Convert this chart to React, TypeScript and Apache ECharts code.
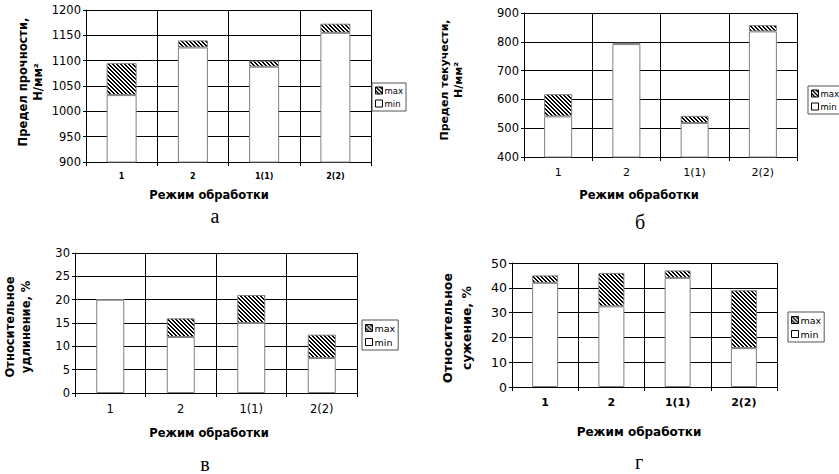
import React, { useEffect, useRef } from "react";
import * as echarts from "echarts";

const categories = ["1", "2", "1(1)", "2(2)"];

// a — Предел прочности
const strengthMin = [1032, 1126, 1088, 1155];
const strengthMax = [1095, 1140, 1100, 1173];
// б — Предел текучести
const yieldMin = [541, 792, 518, 836];
const yieldMax = [618, 797, 543, 858];
// в — Относительное удлинение
const elongMin = [20, 12, 15, 7.5];
const elongMax = [20, 16, 21, 12.5];
// г — Относительное сужение
const narrowMin = [42, 32.5, 44, 15.7];
const narrowMax = [45, 46, 47, 39];

const FONT = "DejaVu Sans";

type Panel = {
  grid: { left: number; top: number; width: number; height: number };
  min: number;
  max: number;
  interval: number;
  mins: number[];
  maxs: number[];
  barWidth: number;
  xBold: boolean;
  xSize: number;
  ySize: number;
  legend: { left: number; top: number };
  legendSize: number;
};

const panels: Panel[] = [
  {
    grid: { left: 86, top: 10, width: 285, height: 152 },
    min: 900, max: 1200, interval: 50,
    mins: strengthMin, maxs: strengthMax, barWidth: 30,
    xBold: true, xSize: 8, ySize: 11.5,
    legend: { left: 372, top: 83 }, legendSize: 8.5,
  },
  {
    grid: { left: 524, top: 13, width: 273, height: 144 },
    min: 400, max: 900, interval: 100,
    mins: yieldMin, maxs: yieldMax, barWidth: 28,
    xBold: false, xSize: 11, ySize: 11.5,
    legend: { left: 808, top: 86 }, legendSize: 8.5,
  },
  {
    grid: { left: 75, top: 253, width: 282, height: 140 },
    min: 0, max: 30, interval: 5,
    mins: elongMin, maxs: elongMax, barWidth: 28,
    xBold: false, xSize: 11.5, ySize: 11.5,
    legend: { left: 362, top: 320 }, legendSize: 9.5,
  },
  {
    grid: { left: 512, top: 263, width: 265, height: 124 },
    min: 0, max: 50, interval: 10,
    mins: narrowMin, maxs: narrowMax, barWidth: 26,
    xBold: true, xSize: 11, ySize: 12.5,
    legend: { left: 788, top: 312 }, legendSize: 9.5,
  },
];

function makeHatch(): HTMLCanvasElement {
  const size = 4;
  const c = document.createElement("canvas");
  c.width = size;
  c.height = size;
  const ctx = c.getContext("2d")!;
  ctx.fillStyle = "#fff";
  ctx.fillRect(0, 0, size, size);
  ctx.fillStyle = "#000";
  // "\" diagonal stripes, 2px thick, period 4px
  for (let y = 0; y < size; y++) {
    for (let x = 0; x < size; x++) {
      const d = (x - y + size * 4) % size;
      if (d === 0 || d === 1) ctx.fillRect(x, y, 1, 1);
    }
  }
  return c;
}

export default function App() {
  const ref = useRef<HTMLDivElement>(null);
  useEffect(() => {
    if (!ref.current) return;
    const chart = echarts.init(ref.current, undefined, { renderer: "svg" });
    const hatchCanvas = makeHatch();
    const hatchFill: any = {
      image: hatchCanvas,
      repeat: "repeat",
      imageWidth: hatchCanvas.width,
      imageHeight: hatchCanvas.height,
    };

    const grid = panels.map((p) => ({ ...p.grid, containLabel: false }));
    const xAxis = panels.map((p, i) => ({
      type: "category",
      gridIndex: i,
      data: categories,
      boundaryGap: true,
      axisLine: { show: true, lineStyle: { color: "#000", width: 1 } },
      axisTick: { show: true, length: 4, lineStyle: { color: "#000" } },
      splitLine: { show: true, lineStyle: { color: "#000", width: 1 } },
      axisLabel: {
        color: "#000",
        fontFamily: FONT,
        fontSize: p.xSize,
        fontWeight: p.xBold ? "bold" : "normal",
        margin: 10,
      },
    }));
    const yAxis = panels.map((p, i) => ({
      type: "value",
      gridIndex: i,
      min: p.min,
      max: p.max,
      interval: p.interval,
      axisLine: { show: true, lineStyle: { color: "#000", width: 1 } },
      axisTick: { show: true, length: 3, lineStyle: { color: "#000" } },
      splitLine: { show: true, lineStyle: { color: "#000", width: 1 } },
      axisLabel: {
        color: "#000",
        fontFamily: FONT,
        fontSize: p.ySize,
        margin: 5,
        formatter: (v: number) => String(v),
      },
    }));

    const series: any[] = [];
    panels.forEach((p, i) => {
      series.push({
        name: "min",
        type: "bar",
        xAxisIndex: i,
        yAxisIndex: i,
        stack: "s" + i,
        barWidth: p.barWidth,
        data: p.mins,
        itemStyle: { color: "#fff", borderColor: "#808080", borderWidth: 1 },
      });
      series.push({
        name: "max",
        type: "bar",
        xAxisIndex: i,
        yAxisIndex: i,
        stack: "s" + i,
        barWidth: p.barWidth,
        data: p.maxs.map((v, k) => +(v - p.mins[k]).toFixed(2)),
        itemStyle: { color: hatchFill, borderColor: "#808080", borderWidth: 1 },
      });
    });

    const legend = panels.map((p) => ({
      left: p.legend.left,
      top: p.legend.top,
      orient: "vertical",
      data: ["max", "min"],
      icon: "rect",
      itemWidth: 7,
      itemHeight: 7,
      itemGap: 4,
      padding: [3, 3, 3, 3],
      borderColor: "#555",
      borderWidth: 1,
      backgroundColor: "#fff",
      selectedMode: false,
      itemStyle: { borderColor: "#000", borderWidth: 1 },
      textStyle: { fontFamily: FONT, fontSize: p.legendSize, color: "#000", padding: [0, 0, 0, -3] },
    }));

    const bold = (size: number) => `bold ${size}px "${FONT}"`;
    const graphic: any[] = [
      // Y axis names
      { type: "text", x: 30, y: 82, rotation: Math.PI / 2,
        style: { text: "Предел прочности,\nН/мм²", font: bold(11.5), fill: "#000", align: "center", verticalAlign: "middle", lineHeight: 15 } },
      { type: "text", x: 451, y: 80, rotation: Math.PI / 2,
        style: { text: "Предел текучести,\nН/мм²", font: bold(11), fill: "#000", align: "center", verticalAlign: "middle", lineHeight: 14 } },
      { type: "text", x: 18, y: 327, rotation: Math.PI / 2,
        style: { text: "Относительное\nудлинение, %", font: bold(11.5), fill: "#000", align: "center", verticalAlign: "middle", lineHeight: 16 } },
      { type: "text", x: 457, y: 328, rotation: Math.PI / 2,
        style: { text: "Относительное\nсужение, %", font: bold(12.5), fill: "#000", align: "center", verticalAlign: "middle", lineHeight: 19 } },
      // X axis names
      { type: "text", x: 209, y: 195, style: { text: "Режим обработки", font: bold(11.5), fill: "#000", align: "center", verticalAlign: "middle" } },
      { type: "text", x: 639, y: 195, style: { text: "Режим обработки", font: bold(11.5), fill: "#000", align: "center", verticalAlign: "middle" } },
      { type: "text", x: 209, y: 433, style: { text: "Режим обработки", font: bold(11.5), fill: "#000", align: "center", verticalAlign: "middle" } },
      { type: "text", x: 639, y: 432, style: { text: "Режим обработки", font: bold(12), fill: "#000", align: "center", verticalAlign: "middle" } },
      // Panel letters
      { type: "text", x: 215, y: 216, style: { text: "а", font: '20px "Liberation Serif"', fill: "#000", align: "center", verticalAlign: "middle" } },
      { type: "text", x: 640, y: 222, style: { text: "б", font: '20px "Liberation Serif"', fill: "#000", align: "center", verticalAlign: "middle" } },
      { type: "text", x: 205, y: 464, style: { text: "в", font: '20px "Liberation Serif"', fill: "#000", align: "center", verticalAlign: "middle" } },
      { type: "text", x: 639, y: 462, style: { text: "г", font: '20px "Liberation Serif"', fill: "#000", align: "center", verticalAlign: "middle" } },
    ];

    chart.setOption({
      animation: false,
      backgroundColor: "#fff",
      grid,
      xAxis,
      yAxis,
      series,
      legend,
      graphic,
    });
    return () => chart.dispose();
  }, []);
  return (
    <div
      ref={ref}
      style={{ position: "fixed", left: 0, top: 0, width: 839, height: 474, background: "#fff" }}
    />
  );
}
